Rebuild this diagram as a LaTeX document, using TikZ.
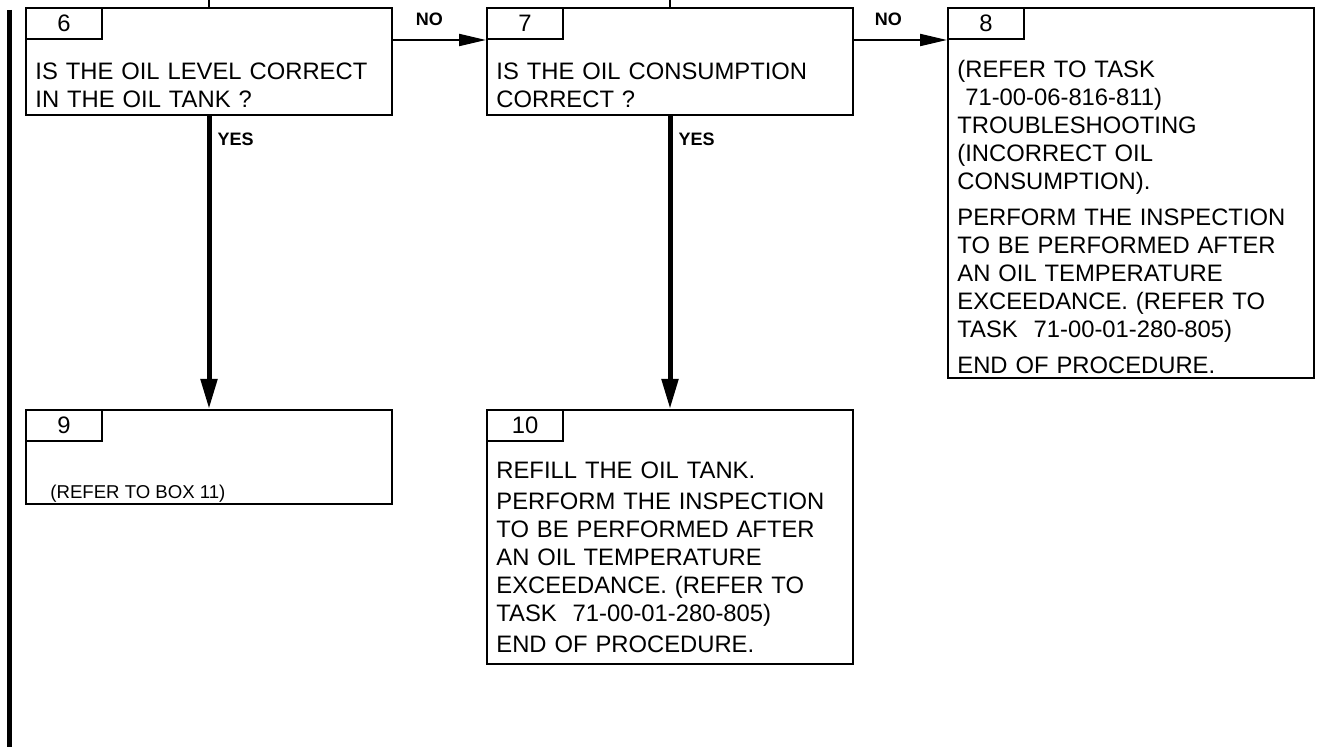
\documentclass[tikz,border=0pt]{standalone}
\usepackage{fontspec}
\setmainfont{Liberation Sans}
\usetikzlibrary{arrows.meta,positioning}
\tikzset{
  stepbox/.style={draw=black,line width=1pt,anchor=north west,inner sep=0pt,minimum width=183pt},
  numtab/.style={draw=black,line width=1pt,anchor=north west,inner sep=0pt,minimum width=38pt,minimum height=15.5pt,font=\fontsize{11.9}{14}\selectfont},
  boxtext/.style={anchor=north west,inner sep=0pt,align=left,text width=176pt,font=\fontsize{11.9}{14}\selectfont},
  smalltext/.style={anchor=base west,inner sep=0pt,font=\fontsize{9.3}{11}\selectfont},
  answer/.style={inner sep=0pt,font=\fontsize{9}{10}\selectfont\bfseries},
  noflow/.style={-{Triangle[length=13.5pt,width=6pt]},line width=1pt},
  yesflow/.style={-{Triangle[length=15pt,width=8pt]},line width=2.5pt},
  feed/.style={line width=1pt},
}

\begin{document}
\begin{tikzpicture}[x=0.5pt,y=-0.5pt]
			\useasboundingbox (0,0) rectangle (1323,747);
			\draw[line width=2.5pt] (9,10) -- (9,747);
			\node[stepbox,minimum height=53.5pt] (b6) at (25,7) {};
			\node[numtab] (t6) at (25,7) {6};
			\node[boxtext] (q6) at (35,62.5) {IS THE OIL LEVEL CORRECT\\IN THE OIL TANK ?};
			\node[stepbox,minimum height=53.5pt] (b7) at (486,7) {};
			\node[numtab] (t7) at (486,7) {7};
			\node[boxtext] (q7) at (496,62.5) {IS THE OIL CONSUMPTION\\CORRECT ?};
			\node[stepbox,minimum height=185pt] (b8) at (947,7) {};
			\node[numtab] (t8) at (947,7) {8};
			\node[boxtext] (a8) at (957,59.5) {(REFER TO TASK\\\ 71-00-06-816-811)\\TROUBLESHOOTING\\(INCORRECT OIL\\CONSUMPTION).\\[4pt]PERFORM THE INSPECTION\\TO BE PERFORMED AFTER\\AN OIL TEMPERATURE\\EXCEEDANCE. (REFER TO\\TASK\ \ 71-00-01-280-805)\\[4pt]END OF PROCEDURE.};
			\node[stepbox,minimum height=47pt] (b9) at (25,409) {};
			\node[numtab] (t9) at (25,409) {9};
			\node[smalltext] (a9) at (50,498.5) {(REFER TO BOX 11)};
			\node[stepbox,minimum height=127pt] (b10) at (486,409) {};
			\node[numtab] (t10) at (486,409) {10};
			\node[boxtext] (a10) at (496,461.5) {REFILL THE OIL TANK.\\[1.5pt]PERFORM THE INSPECTION\\TO BE PERFORMED AFTER\\AN OIL TEMPERATURE\\EXCEEDANCE. (REFER TO\\TASK\ \ 71-00-01-280-805)\\[1.5pt]END OF PROCEDURE.};
			\coordinate (in6) at (b6.north |- 0,0);
			\coordinate (in7) at (b7.north |- 0,0);
			\draw[feed] (in6)--(b6.north);
			\draw[feed] (in7)--(b7.north);
			\draw[noflow] (t6.south -| b6.east)--node[answer,pos=.39,above=6.5pt]{NO}(t7.south west);
			\draw[noflow] (t7.south -| b7.east)--node[answer,pos=.37,above=6.5pt]{NO}(t8.south west);
			\draw[yesflow] (b6.south)--node[answer,pos=.08,right=3pt]{YES}(b9.north);
			\draw[yesflow] (b7.south)--node[answer,pos=.08,right=3pt]{YES}(b10.north);
		\end{tikzpicture}
\end{document}
